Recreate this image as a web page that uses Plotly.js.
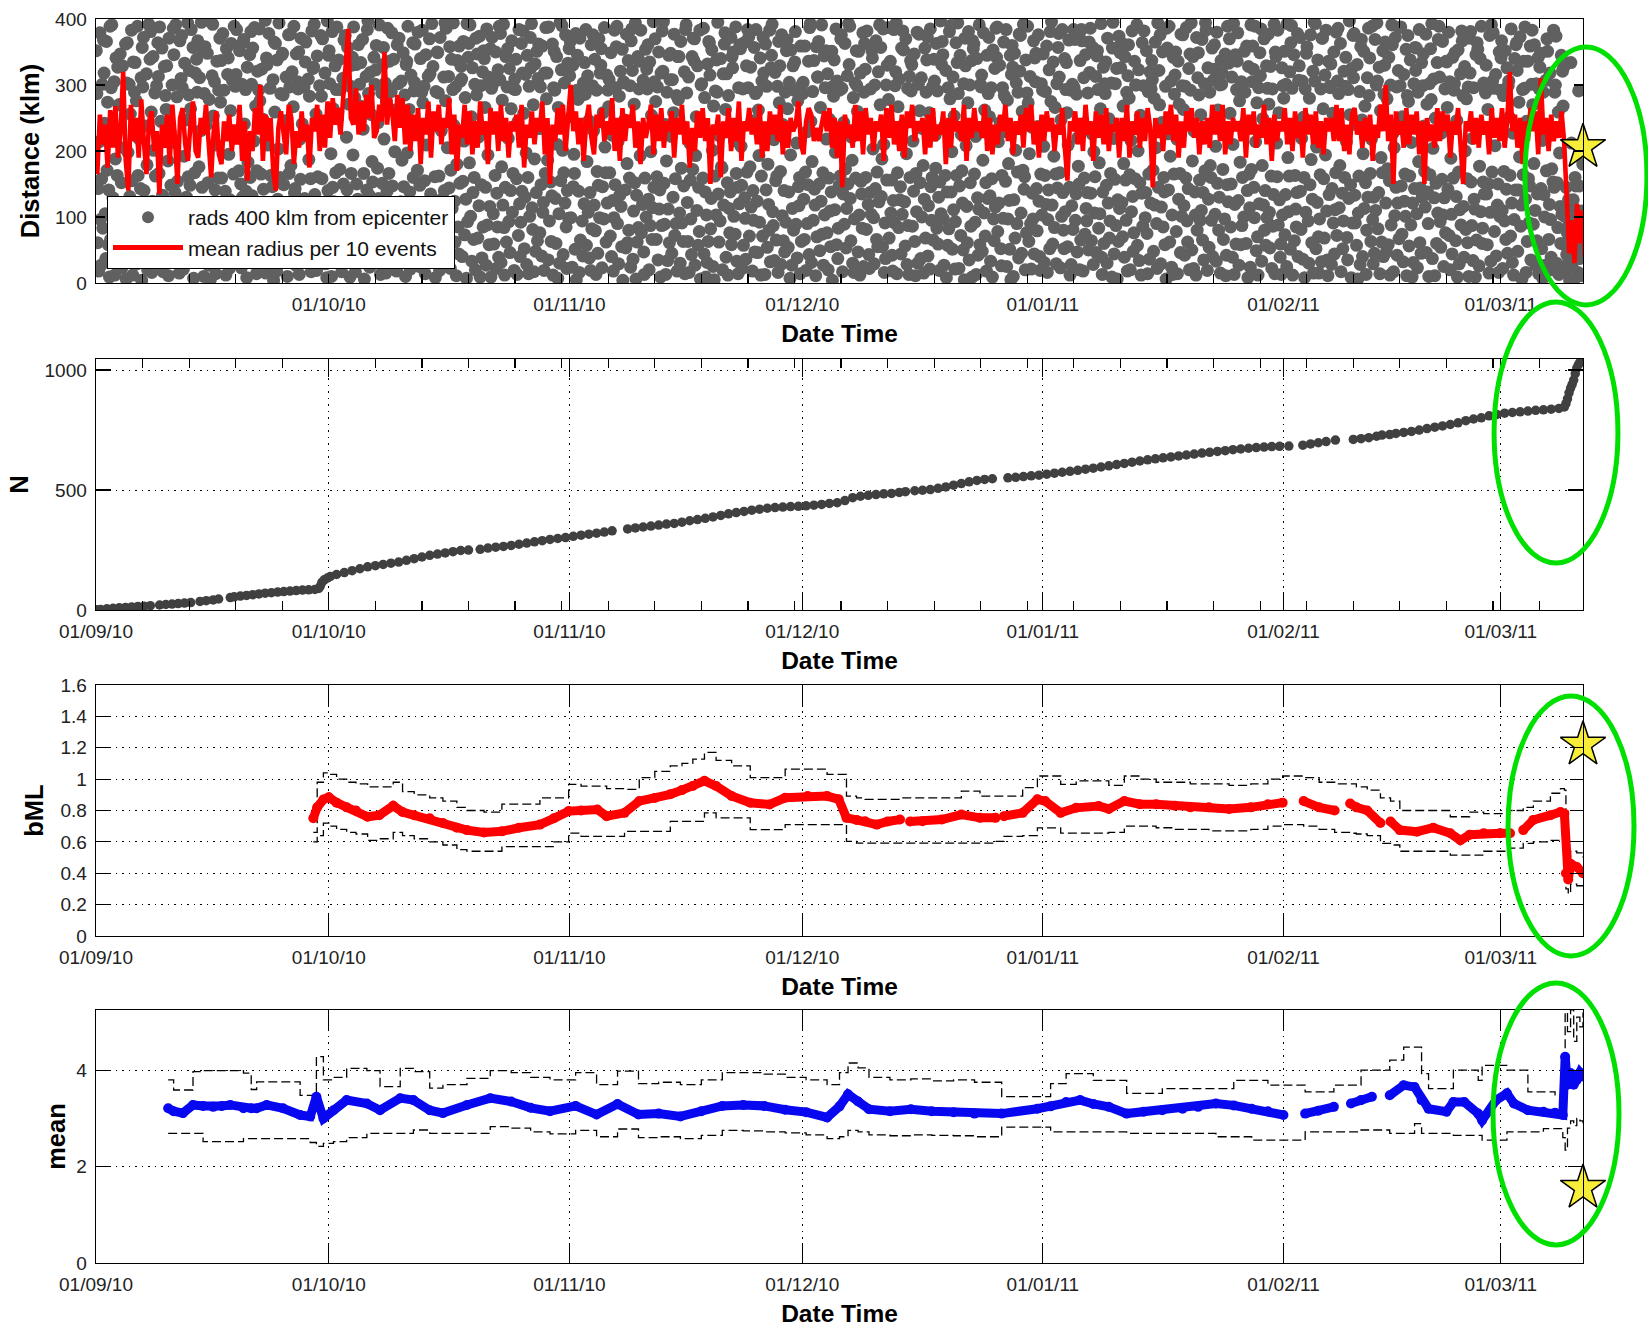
<!DOCTYPE html>
<html>
<head>
<meta charset="utf-8">
<script src="https://cdn.plot.ly/plotly-3.0.1.min.js"></script>
<style>html,body{margin:0;padding:0;background:#fff}#chart{width:1648px;height:1328px}</style>
</head>
<body>
<div id="chart"></div>
<script>
// ---------- DATA ----------
// Time is given in days since 01/09/2010 00:00
const START_DATE = '2010-09-01';
const END_DAY = 191.6;            // end of the record (main shock)
const monthTicksTop = ['2010-10-01','2010-11-01','2010-12-01','2011-01-01','2011-02-01','2011-03-01'];

// Panel 1: distance (km) of events within 400 km, grouped per day (day index = position)
const radsByDay = [
[352,287,61,143,18,214,379,96,27,158,301,83,368],[318,242,105,37,366,171,274,58,141,9,389,66,296],[391,226,129,74,305,12,188,341,52,163,327,98,270],[270,347,88,152,23,329,117,205,119,40,362,6,303],
[364,198,47,301,131,256,84,383,155,12,335,102,289],[334,111,276,29,389,163,219,68,89,143,311,4,357],[297,372,140,52,238,99,317,179,20,121,392,73,339],[381,259,16,124,343,201,77,288,162,58,299,103,364],
[313,166,388,92,245,41,356,133,17,109,328,64,284],[263,329,72,185,11,371,117,229,148,35,300,95,386],[346,213,137,391,58,282,154,34,76,15,367,120,310],[375,296,103,21,192,333,81,247,130,52,394,161,285],
[322,148,264,384,66,119,357,7,31,167,318,94,339],[289,367,44,176,311,96,231,395,145,68,351,10,287],[358,121,239,63,348,152,27,278,83,5,396,110,314],[392,253,87,305,141,14,209,336,47,159,292,118,371],
[274,337,159,39,378,109,292,64,139,12,355,84,316],[341,195,22,126,261,363,83,307,56,165,389,39,298],[316,384,112,48,227,170,352,95,150,23,301,130,365],[369,241,75,293,139,8,327,183,98,44,346,160,381],
[301,132,356,59,215,387,107,268,14,170,321,84,292],[385,276,37,165,324,90,248,142,118,62,398,15,341],[331,209,118,378,49,295,163,26,89,146,308,4,365],[259,363,94,18,338,127,203,394,53,160,287,111,346],
[348,285,149,71,246,32,312,116,10,93,376,166,297],[377,178,53,320,98,267,389,136,143,27,347,74,305],[294,350,13,218,157,371,79,241,112,45,297,128,335],[365,229,101,42,309,187,283,67,158,17,382,83,325],
[327,392,134,86,256,19,344,161,47,117,299,57,375],[283,158,370,55,234,113,318,29,97,8,397,140,345],[352,302,77,196,10,381,145,264,123,38,329,167,293],[388,249,120,338,62,172,293,35,17,93,310,150,368],
[311,375,45,221,141,357,87,271,114,9,298,166,330],[342,194,388,97,281,17,331,150,60,127,361,42,301],[268,334,109,58,369,233,166,6,87,30,313,141,384],[397,287,133,24,319,78,255,184,153,51,342,103,301],
[323,360,66,174,243,128,391,41,13,104,288,151,331],[357,218,92,303,15,276,139,386,57,166,336,37,293],[290,379,147,50,339,103,199,262,92,18,361,122,302],[371,256,31,123,306,186,64,349,146,87,285,10,331],
[336,197,389,82,263,138,21,315,112,47,364,160,291],[304,362,119,43,227,171,380,96,25,148,340,68,289],[383,273,57,298,155,14,346,209,116,33,313,86,370],[317,135,245,393,71,328,104,38,161,8,290,124,350],
[349,288,162,19,372,93,231,127,55,104,312,140,394],[276,386,86,205,48,313,144,358,22,171,339,113,293],[394,239,124,62,297,11,180,337,85,44,359,151,306],[328,309,40,154,366,215,73,281,127,7,393,93,342],
[363,182,391,101,252,33,326,137,66,160,301,20,371],[285,347,68,221,117,374,9,299,149,38,320,85,352],[340,266,145,27,385,88,194,312,58,116,355,9,295],[372,301,105,59,236,163,350,22,136,85,323,39,389],
[308,378,31,176,277,118,392,84,12,145,343,62,297],[355,219,93,325,46,140,264,367,107,166,294,19,309],[293,339,158,13,244,72,384,120,40,92,363,139,318],[382,257,52,130,316,197,28,345,160,14,298,101,372],
[326,393,114,81,270,17,188,332,48,137,351,64,310],[362,234,76,297,149,41,359,107,122,19,318,166,387],[279,318,186,35,388,94,225,153,63,132,362,12,296],[351,292,128,60,343,210,7,266,105,30,395,155,323],
[390,201,43,167,303,121,376,85,22,140,333,98,355],[314,366,99,252,24,330,146,195,166,51,378,5,292],[345,278,139,16,371,65,284,231,94,41,303,120,334],[286,384,57,184,314,107,246,38,137,19,361,82,299],
[376,231,118,339,79,13,292,169,45,148,370,99,318],[330,355,23,146,258,97,387,206,167,62,315,121,292],[267,308,167,71,349,40,224,125,18,99,383,149,296],[358,389,90,214,29,283,133,321,116,55,354,4,305],
[303,247,141,53,377,181,61,337,80,159,299,24,367],[385,322,36,109,271,152,394,6,133,62,343,84,294],[336,193,383,76,229,119,307,47,13,159,354,100,324],[294,361,127,20,335,87,199,254,66,114,396,145,305],
[370,275,66,161,297,35,350,112,141,9,318,87,382],[321,396,151,89,240,13,185,289,34,112,345,61,308],[348,222,45,308,130,258,377,72,158,90,284,18,343],[278,343,106,30,366,174,91,237,63,147,320,14,384],
[391,288,122,63,312,16,212,156,97,43,343,172,371],[337,370,27,193,252,110,329,57,145,78,383,6,300],[302,240,159,386,44,281,138,9,103,31,332,63,366],[364,315,82,128,353,201,25,268,5,162,291,103,338],
[289,395,135,62,223,94,340,176,174,20,317,118,362],[379,263,39,317,152,12,284,113,76,138,372,58,343],[326,350,101,215,74,388,166,33,145,14,296,120,361],[355,207,148,22,294,57,364,129,98,36,329,168,384],
[296,373,71,176,327,115,246,18,140,95,357,47,287],[384,289,124,46,262,193,92,341,12,162,306,71,372],[318,232,13,362,141,298,54,180,119,80,383,32,326],[345,392,108,87,217,34,319,155,65,162,298,16,366],
[273,329,169,28,376,102,240,64,140,47,289,92,352],[368,264,54,138,304,7,194,353,27,113,329,80,292],[335,381,89,212,38,276,146,117,160,14,359,63,300],[287,304,127,66,359,168,19,229,90,149,336,43,387],
[393,245,31,184,290,95,337,142,118,11,358,70,312],[312,366,150,49,266,124,391,74,167,27,344,103,296],[352,218,76,317,20,159,248,109,55,138,351,4,298],[283,338,111,198,385,58,306,37,83,147,292,162,370],
[376,295,17,135,243,89,363,173,53,113,314,150,393],[331,389,128,64,221,186,30,281,16,97,303,159,352],[299,260,47,351,103,12,318,154,135,83,379,25,289],[363,324,160,81,382,237,119,43,22,137,294,104,352],
[341,203,99,29,300,143,367,66,168,55,320,123,391],[270,357,131,188,55,385,210,16,91,37,300,156,330],[387,278,68,240,336,106,156,42,18,125,384,91,299],[320,394,14,167,267,84,309,126,146,44,356,104,382],
[353,241,123,56,370,196,28,295,87,13,313,160,337],[291,331,86,215,139,347,63,11,166,108,380,30,301],[377,261,152,37,311,100,234,178,15,127,356,68,289],[338,373,41,117,258,21,385,146,95,160,298,65,339],
[306,224,174,363,83,291,59,130,19,153,397,105,331],[366,346,97,27,238,163,322,8,138,57,296,82,381],[279,390,138,199,51,312,111,253,21,93,364,163,334],[394,287,22,147,345,72,225,170,121,50,302,5,371],
[329,208,116,61,273,381,35,300,152,86,337,9,367],[355,362,165,92,222,13,340,129,42,112,391,58,301],[297,315,48,186,379,106,262,71,152,18,345,128,287],[372,252,132,33,296,158,9,353,97,64,325,115,386],
[342,388,78,214,121,330,243,52,26,163,296,98,365],[284,229,154,384,25,277,97,181,125,51,345,5,316],[360,327,10,126,348,68,201,303,90,168,289,38,377],[321,375,106,45,260,171,392,142,161,20,338,76,288],
[389,273,63,196,313,90,21,236,136,97,367,44,341],[305,348,143,79,237,376,124,40,19,165,302,103,292],[347,207,31,163,290,119,359,16,96,141,323,52,381],[275,396,118,59,335,192,84,266,165,29,302,144,357],
[378,312,167,23,247,101,384,137,80,52,340,108,293],[334,258,55,209,368,145,12,292,28,117,301,81,384],[296,369,95,135,286,47,220,177,150,20,337,65,384],[367,241,18,311,159,74,346,113,94,137,288,50,365],
[319,386,136,64,226,357,28,199,106,161,313,46,344],[352,293,83,182,105,264,393,39,13,138,327,60,302],[287,335,148,30,371,121,249,68,94,166,303,9,356],[395,219,44,157,302,87,325,6,126,63,374,113,349],
[326,364,122,70,268,181,39,343,156,95,289,18,314],[361,280,164,20,216,108,382,131,48,76,336,158,300],[300,391,57,200,323,34,152,254,12,136,364,86,299],[382,246,99,137,352,75,14,290,165,36,320,121,294],
[337,308,171,48,280,118,365,205,90,22,394,145,322],[270,376,29,115,243,350,85,160,138,58,298,6,386],[356,226,141,389,62,192,306,24,103,13,342,165,286],[315,350,78,218,14,336,127,271,166,46,377,101,299],
[376,263,117,42,298,159,387,94,62,143,325,20,347],[292,394,50,185,343,22,230,138,103,12,372,80,311],[349,285,156,95,255,110,369,65,137,35,302,170,394],[383,233,19,326,127,54,289,178,160,95,356,40,307],
[324,361,104,207,33,380,151,262,80,130,300,15,337],[301,318,172,66,227,97,347,11,42,149,389,123,333],[370,257,85,150,312,39,210,393,13,119,346,59,293],[336,379,125,27,276,183,58,305,87,160,301,100,351],
[289,243,60,359,140,8,328,165,114,24,391,172,305],[359,324,145,99,389,214,49,273,70,12,296,120,349],[314,385,33,178,249,118,370,80,140,57,329,99,295],[377,271,107,53,328,162,22,294,86,134,392,14,350],
[343,212,161,383,88,258,126,39,59,13,326,103,299],[280,351,73,134,301,25,393,190,108,162,320,51,364],[390,295,12,228,346,64,163,112,85,137,378,40,307],[329,372,139,81,219,306,36,251,160,8,294,107,348],
[358,236,94,30,280,149,376,187,61,127,321,15,395],[306,393,52,206,122,338,70,15,97,164,294,32,371],[371,264,158,68,315,194,383,109,35,11,336,134,298],[296,332,28,143,257,91,350,44,111,167,380,72,306],
[386,287,114,178,363,17,224,136,52,94,321,160,298],[342,214,69,35,293,128,397,255,149,8,325,91,375],[311,378,133,91,240,57,331,6,106,162,290,28,358],[369,247,40,196,351,113,268,152,13,80,311,130,386],
[284,341,166,63,218,389,96,29,130,45,369,110,300],[394,306,82,137,327,14,261,190,62,167,352,40,286],[330,365,121,47,279,173,58,342,155,12,300,88,391],[361,227,17,205,102,372,145,297,42,121,322,67,387],
[299,388,147,74,252,32,316,124,165,101,354,11,284],[375,275,56,162,338,88,213,9,121,31,302,143,357],[322,356,105,23,289,184,384,61,144,45,334,130,299],[347,238,169,115,377,46,271,138,90,10,302,164,355],
[278,393,37,204,309,129,11,250,151,60,334,106,369],[389,312,93,54,227,157,366,103,25,129,294,76,336],[335,266,142,380,72,305,20,189,104,44,342,159,292],[302,349,64,131,246,9,353,168,29,111,317,88,382],
[367,284,116,39,328,200,81,279,158,61,297,10,371],[318,381,153,87,219,34,296,127,112,9,346,65,364],[354,239,26,177,340,108,389,60,83,153,303,135,293],[288,330,135,58,263,150,15,375,107,33,391,168,306],
[379,295,78,208,316,41,234,118,150,16,350,101,292],[341,367,110,22,284,169,94,352,66,142,326,45,299],[306,251,163,71,385,121,31,227,12,96,340,141,361],[364,322,48,141,274,191,373,86,118,6,293,164,336],
[295,388,127,16,245,63,336,158,91,147,359,35,301],[383,270,89,181,361,110,27,302,64,135,341,14,294],[327,348,143,52,216,7,289,134,100,27,307,170,370],[351,230,66,119,318,96,39,173,20,153,383,145,289],
[300,374,30,152,84,259,13,197,116,60,345,104,321],[268,327,58,101,18,145,43,76,29,126,88,4,115],[334,212,24,88,126,5,62,160,147,39,102,72,16],[291,147,37,71,11,109,52,180,19,128,96,64,140]
];

// Panel 1: mean radius per 10 events (km), grouped per day
const meanRadByDay = [
[165,255,210],[240,175,262],[205,268,190],[230,320,185],[140,270,215],[250,190,278],[215,165,245],[260,200,230],
[135,240,205],[255,180,270],[220,150,250],[265,210,185],[240,275,200],[190,250,225],[270,205,160],[230,260,195],
[180,245,215],[255,200,240],[210,270,185],[245,155,230],[200,265,225],[300,185,255],[215,250,170],[140,235,260],
[225,195,270],[250,180,230],[205,260,215],[240,175,250],[230,270,200],[255,205,275],[220,280,240],[265,225,290],
[330,385,250],[240,295,225],[275,230,285],[250,300,220],[230,270,245],[350,240,280],[260,215,285],[235,280,210],
[270,200,255],[215,265,180],[250,225,275],[190,260,230],[270,210,250],[235,280,195],[255,170,240],[220,270,210],
[260,195,245],[205,275,225],[245,180,265],[225,260,200],[270,215,250],[190,245,230],[255,205,270],[175,240,220],
[260,210,250],[230,275,195],[250,150,240],[215,265,225],[270,200,255],[300,230,260],[210,250,185],[245,270,220],
[195,255,235],[265,215,245],[225,280,200],[250,185,265],[215,255,235],[270,205,245],[180,250,220],[240,270,195],
[255,215,265],[205,245,230],[260,190,250],[225,270,210],[245,175,235],[200,260,220],[265,215,250],[150,240,225],
[255,160,245],[220,265,200],[250,215,275],[185,245,230],[265,225,250],[210,270,190],[245,200,260],[225,255,215],
[270,195,245],[205,250,230],[240,275,210],[195,245,265],[255,215,235],[215,240,260],[230,265,205],[250,190,245],
[145,255,220],[240,205,270],[215,260,195],[265,225,250],[200,245,230],[255,185,265],[220,270,210],[245,200,255],
[190,260,235],[270,215,245],[230,250,195],[255,205,265],[215,240,225],[260,180,250],[205,265,230],[245,215,270],
[185,250,220],[265,230,245],[220,270,200],[250,195,240],[210,255,230],[270,215,250],[195,245,225],[255,205,265],
[230,270,210],[245,190,255],[215,260,230],[250,200,240],[225,265,205],[155,245,230],[260,210,250],[200,270,225],
[245,185,260],[220,255,210],[265,200,240],[230,250,190],[250,215,270],[190,245,225],[260,205,250],[215,265,235],
[145,250,220],[240,200,260],[225,270,215],[255,190,245],[205,260,230],[265,220,250],[195,245,210],[250,205,270],
[225,260,215],[270,195,245],[210,250,230],[245,215,265],[190,255,225],[260,205,240],[220,270,210],[250,185,255],
[215,245,230],[265,210,250],[200,260,220],[245,190,265],[225,255,210],[260,205,245],[195,250,230],[250,215,270],
[215,265,200],[240,195,255],[265,225,245],[205,250,215],[255,185,240],[220,270,230],[300,215,255],[150,260,225],
[245,205,265],[210,255,225],[260,195,245],[150,250,215],[240,205,265],[215,260,230],[255,190,245],[225,265,205],
[150,245,230],[260,210,250],[205,255,225],[245,195,265],[220,250,215],[265,205,245],[320,230,255],[205,250,180],
[245,215,265],[230,260,195],[310,225,250],[200,255,215],[245,220,260],[215,130,45],[95,30,120],[60,110,40]
];

// Panel 2: cumulative number of events N
const nDay = [0.1,0.6,1.4,2.2,3.0,3.8,4.6,5.4,6.2,7.0,8.2,9.0,9.8,10.6,11.4,12.2,13.4,14.2,15.1,15.8,
17.3,17.8,18.6,19.4,20.2,21.0,21.8,22.6,23.4,24.2,25.0,25.8,26.6,27.4,28.2,28.7,28.9,29.1,29.4,29.8,30.2,
31,32,33,34,35,36,37,38,39,40,41,42,43,44,45,46,47,48,
49.5,50.5,51.5,52.5,53.5,54.5,55.5,56.5,57.5,58.5,59.5,60.5,61.5,62.5,63.5,64.5,65.5,66.5,
68.5,69.5,70.5,71.5,72.5,73.5,74.5,75.5,76.5,77.5,78.5,79.5,80.5,81.5,82.5,83.5,84.5,85.5,86.5,87.5,88.5,89.5,90.5,91.5,92.5,93.5,94.5,95.5,96.5,97.5,98.5,99.5,100.5,101.5,102.5,103.5,
104.3,105.5,106.5,107.5,108.5,109.5,110.5,111.5,112.5,113.5,114.5,115.5,
117.5,118.5,119.5,120.5,121.5,122.5,123.5,124.5,125.5,126.5,127.5,128.5,129.5,130.5,131.5,132.5,133.5,134.5,135.5,136.5,137.5,138.5,139.5,140.5,141.5,142.5,143.5,144.5,145.5,146.5,147.5,148.5,149.5,150.5,151.5,152.5,
153.7,155.5,156.5,157.5,158.5,159.7,162,163,164,165,165.7,166.7,
167.5,168.5,169.5,170.5,171.5,172.5,173.5,174.5,175.5,176.5,177.5,178.5,179.5,180.5,181.5,182.5,183.5,184.5,185.5,186.5,187.5,188.5,
189.2,189.4,189.6,189.8,190.0,190.2,190.4,190.6,190.8,191.0,191.2,191.4,191.6];
const nVal = [1,2,5,7,9,11,13,15,16,18,21,23,25,27,29,31,36,39,42,46,
52,55,58,61,64,67,70,72,75,77,79,81,83,84,86,90,100,115,126,133,140,
148,156,164,172,180,185,190,195,200,207,214,221,228,233,238,243,248,250,
253,258,262,265,269,274,279,284,289,294,298,302,307,312,316,320,325,330,
338,342,346,350,354,358,361,366,372,377,382,388,394,401,406,411,416,420,424,427,429,431,432,434,437,440,444,447,456,468,474,478,481,484,486,490,
493,497,499,502,507,513,520,527,534,540,544,547,
551,553,556,559,562,566,570,574,578,582,587,591,596,601,606,611,616,621,626,630,634,638,642,646,650,654,657,661,664,668,671,674,677,679,681,682,
683,687,692,697,702,708,711,714,718,724,729,731,
736,740,744,750,756,762,767,773,780,789,796,801,809,815,820,823,826,829,832,834,837,840,
846,860,880,905,925,940,958,985,1008,1022,1032,1040,1046];

// Panel 3: b-value (bML) with upper / lower bounds (null = no estimate)
const bDay = [28.0,28.5,29.3,30.0,31.0,32.3,33.5,35.0,36.5,38.3, 39.5,41.0,43.0,44.7,46.5,47.8,50.0,52.3,54.5,57.2,
59.0,60.9,62.5,64.6,65.8,68.1,70.0,72.0,74.0,75.5, 76.9,78.4,79.9,81.9,84.3,86.8,88.8,91.7,94.2,95.7,
96.7,98.0,99.1,100.6,102.0,103.6,104.5,104.9,106.5,109.0, 111.5,113.9,115.9,116.4,117.0,119.4,121.3,122.3,124.3,126.3,
129.2,130.5,132.5,134.5,136.6,139.0,141.0,143.4,146.0,148.8, 151.0,152.9,154.0,155.6,157.6,159.6,160.5,161.6,162.4,163.8,
165.5,166.1,166.8,168.0,170.2,172.3,174.5,175.8,177.0,178.8, 180.9,182.2,183.0,183.9,185.2,187.4,188.7,189.2,189.4,189.7,
190.0,190.8,191.6];
const bVal = [0.75,0.82,0.87,0.885,0.85,0.82,0.80,0.76,0.77,0.83, 0.79,0.77,0.75,0.72,0.69,0.675,0.66,0.667,0.69,0.71,
0.75,0.796,0.80,0.806,0.764,0.785,0.86,0.88,0.903,0.93, 0.956,0.989,0.956,0.892,0.849,0.839,0.881,0.892,0.892,0.871,
0.753,0.74,0.731,0.71,0.73,0.742,null,0.73,0.731,0.742, 0.774,0.753,0.753,null,0.764,0.785,0.871,0.86,0.785,0.817,
0.828,0.81,0.86,0.84,0.84,0.83,0.82,0.82,0.81,0.82, 0.84,0.85,null,0.86,0.82,0.80,null,0.845,0.82,0.80,
0.72,null,0.73,0.675,0.665,0.69,0.655,0.61,0.645,0.655, 0.655,0.655,null,0.675,0.74,0.77,0.79,0.78,0.40,0.36,
0.46,0.44,0.40];
const bUp = [0.66,0.98,1.04,1.03,1.00,0.98,0.97,0.95,0.95,0.98, 0.92,0.90,0.88,0.86,0.82,0.80,0.79,0.84,0.84,0.88,
0.88,0.967,0.956,0.956,0.94,0.935,1.01,1.05,1.085,1.10, 1.128,1.17,1.12,1.085,1.01,1.01,1.064,1.064,1.03,1.03,
0.892,0.88,0.871,0.871,0.871,0.88,null,0.88,0.88,0.88, 0.924,0.892,0.892,null,0.892,0.946,1.02,1.02,0.967,0.989,
0.989,0.96,1.02,1.00,0.98,0.98,0.97,0.97,0.96,0.97, 1.00,1.02,null,1.01,0.98,0.97,null,0.97,0.95,0.93,
0.88,null,0.86,0.80,0.80,0.80,0.76,0.76,0.79,0.78, 0.78,0.80,null,0.82,0.86,0.91,0.94,0.93,0.55,0.50,
0.54,0.53,0.50];
const bLo = [0.60,0.64,0.72,0.70,0.68,0.66,0.65,0.61,0.62,0.66, 0.64,0.62,0.60,0.58,0.55,0.54,0.54,0.57,0.57,0.57,
0.60,0.656,0.635,0.635,0.635,0.667,0.667,0.667,0.731,0.731, 0.731,0.785,0.753,0.753,0.678,0.678,0.71,0.71,0.71,0.71,
0.603,0.592,0.592,0.592,0.592,0.592,null,0.592,0.592,0.592, 0.592,0.592,0.603,null,0.635,0.64,0.689,0.689,0.656,0.656,
0.656,0.66,0.70,0.70,0.69,0.68,0.68,0.67,0.67,0.68, 0.70,0.71,null,0.70,0.68,0.66,null,0.655,0.65,0.64,
0.59,null,0.58,0.54,0.54,0.54,0.515,0.515,0.515,0.54, 0.54,0.56,null,0.59,0.60,0.61,0.61,0.62,0.30,0.27,
0.33,0.32,0.30];

// Panel 4: mean magnitude with upper / lower bounds
const mDay = [9.3,10.0,11.2,12.5,13.8,15.1,16.2,17.3,19.0,20.0, 20.7,22.0,24.1,26.3,27.6,28.4,29.3,30.6,32.3,34.9,
36.6,39.2,40.9,43.0,44.7,47.8,50.8,53.5,56.0,58.5, 61.8,64.5,67.2,69.9,72.5,75.3,78.0,80.7,83.4,86.1,
88.8,91.5,94.2,95.8,96.9,98.2,99.6,102.3,105.0,107.7, 110.5,113.2,116.7,121.3,123.0,125.0,126.8,128.5,130.5,132.8,
135.0,137.4,140.0,142.0,144.3,146.6,148.9,151.0,153.0,154.0, 155.8,157.5,159.5,160.7,161.7,163.0,164.4,165.3,166.7,168.5,
169.9,170.8,171.7,174.0,174.9,176.3,178.1,178.6,180.4,181.8, 182.7,184.5,186.5,188.0,189.0,189.3,189.6,190.0,190.4,190.8,
191.2,191.6];
const mVal = [3.21,3.15,3.11,3.28,3.26,3.24,3.26,3.28,3.21,3.21, 3.21,3.28,3.21,3.07,3.04,3.45,3.00,3.17,3.38,3.31,
3.17,3.42,3.38,3.17,3.11,3.28,3.42,3.35,3.22,3.15, 3.26,3.08,3.30,3.08,3.10,3.04,3.15,3.26,3.28,3.26,
3.18,3.13,3.02,3.25,3.50,3.35,3.19,3.15,3.19,3.15, 3.13,3.10,3.10,3.20,3.25,3.34,3.38,3.30,3.24,3.10,
3.14,3.17,3.20,3.24,3.31,3.27,3.20,3.15,3.07,null, 3.10,3.16,3.24,null,3.31,3.38,3.45,null,3.48,3.69,
3.65,3.38,3.20,3.14,3.34,3.34,3.10,2.96,3.38,3.52, 3.31,3.17,3.14,3.12,3.07,4.28,3.70,3.94,3.70,3.80,
3.95,3.87];
const mUp = [3.80,3.59,3.59,3.97,3.99,3.99,3.99,3.99,3.94,3.60, 3.76,3.76,3.76,3.48,3.48,4.28,3.80,3.85,4.04,3.99,
3.66,4.04,3.97,3.63,3.70,3.83,3.99,3.95,3.85,3.80, 3.95,3.70,3.98,3.72,3.75,3.70,3.80,3.95,3.95,3.92,
3.85,3.80,3.70,3.95,4.15,4.05,3.85,3.80,3.82,3.78, 3.80,3.75,3.45,3.45,3.72,3.93,3.93,3.79,3.79,3.52,
3.52,3.62,3.62,3.62,3.62,3.79,3.79,3.69,3.69,null, 3.55,3.55,3.69,null,3.69,4.00,4.00,null,4.21,4.48,
4.48,3.93,3.62,3.62,4.00,4.00,3.79,4.10,4.10,4.00, 4.00,3.55,3.55,3.49,3.49,5.20,4.80,5.25,4.60,5.10,
4.90,5.20];
const mLo = [2.69,2.69,2.69,2.69,2.52,2.52,2.52,2.52,2.58,2.58, 2.58,2.58,2.58,2.58,2.50,2.42,2.48,2.52,2.60,2.69,
2.69,2.69,2.76,2.69,2.69,2.69,2.83,2.80,2.72,2.68, 2.75,2.62,2.78,2.60,2.62,2.58,2.65,2.75,2.74,2.72,
2.70,2.66,2.58,2.62,2.75,2.72,2.66,2.64,2.66,2.65, 2.64,2.62,2.82,2.82,2.72,2.72,2.72,2.72,2.72,2.69,
2.69,2.69,2.69,2.69,2.62,2.62,2.55,2.55,2.55,null, 2.72,2.72,2.72,null,2.72,2.76,2.76,null,2.69,2.69,
2.89,2.69,2.69,2.69,2.65,2.65,2.65,2.55,2.55,2.72, 2.72,2.72,2.79,2.79,2.60,2.34,2.80,2.95,2.85,3.00,
2.95,2.90];

// Main shock markers (star) per panel
const starDay = 191.6;
const starDist = 206;
const starB = 1.22;
const starMean = 1.56;

// ---------- HELPERS ----------
const T0 = Date.UTC(2010, 8, 1);
function dayToDate(d) {
  return new Date(T0 + d * 86400000).toISOString().replace('T', ' ').slice(0, 19);
}
function expandByDay(groups) {
  const xs = [], ys = [];
  groups.forEach((vals, day) => {
    vals.forEach((v, j) => { xs.push(dayToDate(day + (j + 0.5) / vals.length)); ys.push(v); });
  });
  return {x: xs, y: ys};
}
const FONT = 'Liberation Sans, Arial, sans-serif';
const grey = expandByDay(radsByDay);
const red = expandByDay(meanRadByDay);
const xEnd = dayToDate(END_DAY);
const starStyle = {symbol:'star', size:34, color:'#f7ee3a', line:{color:'#000', width:1.5}};
const dashStyle = {color:'#000', width:1.3, dash:'9px,4px', shape:'hv'};

const traces = [
  {type:'scatter', mode:'markers', x:grey.x, y:grey.y, xaxis:'x', yaxis:'y',
   name:'rads 400 klm from epicenter', marker:{size:13, color:'#606060'}},
  {type:'scatter', mode:'lines', x:red.x, y:red.y, xaxis:'x', yaxis:'y',
   name:'mean radius per 10 events', line:{color:'#ff0000', width:4.6}},
  {type:'scatter', mode:'markers', x:nDay.map(dayToDate), y:nVal, xaxis:'x2', yaxis:'y2',
   showlegend:false, marker:{size:9.5, color:'#404040'}},
  {type:'scatter', mode:'lines', x:bDay.map(dayToDate), y:bUp, xaxis:'x3', yaxis:'y3', showlegend:false,
   connectgaps:true, line:dashStyle},
  {type:'scatter', mode:'lines', x:bDay.map(dayToDate), y:bLo, xaxis:'x3', yaxis:'y3', showlegend:false,
   connectgaps:true, line:dashStyle},
  {type:'scatter', mode:'lines+markers', x:bDay.map(dayToDate), y:bVal, xaxis:'x3', yaxis:'y3', showlegend:false,
   line:{color:'#ff0000', width:9}, marker:{size:10, color:'#ff0000'}},
  {type:'scatter', mode:'lines', x:mDay.map(dayToDate), y:mUp, xaxis:'x4', yaxis:'y4', showlegend:false,
   connectgaps:true, line:dashStyle},
  {type:'scatter', mode:'lines', x:mDay.map(dayToDate), y:mLo, xaxis:'x4', yaxis:'y4', showlegend:false,
   connectgaps:true, line:dashStyle},
  {type:'scatter', mode:'lines+markers', x:mDay.map(dayToDate), y:mVal, xaxis:'x4', yaxis:'y4', showlegend:false,
   line:{color:'#0808f0', width:9}, marker:{size:10, color:'#0808f0'}},
  {type:'scatter', mode:'markers', x:[dayToDate(starDay)], y:[starDist], xaxis:'x', yaxis:'y', showlegend:false, cliponaxis:false, marker:starStyle},
  {type:'scatter', mode:'markers', x:[dayToDate(starDay)], y:[starB], xaxis:'x3', yaxis:'y3', showlegend:false, cliponaxis:false, marker:starStyle},
  {type:'scatter', mode:'markers', x:[dayToDate(starDay)], y:[starMean], xaxis:'x4', yaxis:'y4', showlegend:false, cliponaxis:false, marker:starStyle}
];

// ---------- LAYOUT ----------
const tickFont = {family:FONT, size:19, color:'#222'};
const xTitleFont = {family:FONT, size:24.5, color:'#000', weight:'bold'};
const yTitleFont = {family:FONT, size:25.5, color:'#000', weight:'bold'};
function xAxis(anchor, opts) {
  return Object.assign({
    type:'date', anchor:anchor, domain:[0,1], range:[dayToDate(0), xEnd],
    tickmode:'linear', tick0:START_DATE, dtick:'M1', tickformat:'%d/%m/%y',
    ticks:'inside', ticklen:18, tickwidth:1.2, tickcolor:'#000', tickfont:tickFont, ticklabelstandoff:4,
    showline:true, linecolor:'#000', linewidth:1.4, mirror:'ticks', zeroline:false,
    showgrid:true, gridcolor:'#000', gridwidth:1, griddash:'1.5px,5px',
    title:{text:'Date Time', font:xTitleFont, standoff:10}
  }, opts || {});
}
function yAxis(anchor, domain, range, opts) {
  return Object.assign({
    anchor:anchor, domain:domain, range:range,
    ticks:'inside', ticklen:13, tickwidth:1.2, tickcolor:'#000', tickfont:tickFont, ticklabelstandoff:4,
    showline:true, linecolor:'#000', linewidth:1.4, mirror:'ticks', zeroline:false,
    showgrid:true, gridcolor:'#000', gridwidth:1, griddash:'1.5px,5px'
  }, opts || {});
}
const minor6 = {tickmode:'linear', tick0:START_DATE, dtick:6*86400000, ticks:'inside', ticklen:9, tickwidth:1.2, tickcolor:'#000', showgrid:false};

const layout = {
  width:1648, height:1328, paper_bgcolor:'#fff', plot_bgcolor:'#fff',
  margin:{l:96, r:65, t:19, b:65},
  font:{family:FONT, color:'#000'},
  showlegend:true,
  legend:{x:0.0074, y:0.8577, xanchor:'left', yanchor:'top', bgcolor:'#fff', bordercolor:'#000', borderwidth:1,
          font:{family:FONT, size:21, color:'#111'}, itemwidth:70, itemsizing:'constant', tracegroupgap:0},
  xaxis: xAxis('y', {tickmode:'array', tickvals:monthTicksTop, showgrid:false, ticklen:9, minor:minor6}),
  yaxis: yAxis('x', [0.7878, 1], [0, 400], {dtick:100, showgrid:false, ticklen:9,
          title:{text:'Distance (klm)', font:yTitleFont, standoff:8}}),
  xaxis2: xAxis('y2', {minor:minor6}),
  yaxis2: yAxis('x2', [0.5249, 0.7267], [0, 1046], {tickvals:[0,500,1000], ticklen:15,
          title:{text:'N', font:yTitleFont, standoff:8}}),
  xaxis3: xAxis('y3', {ticklen:22}),
  yaxis3: yAxis('x3', [0.2629, 0.4646], [0, 1.6], {dtick:0.2, ticklen:13,
          title:{text:'bML', font:yTitleFont, standoff:9}}),
  xaxis4: xAxis('y4', {ticklen:20}),
  yaxis4: yAxis('x4', [0, 0.2034], [0, 5.25], {tickvals:[0,2,4], ticklen:15,
          title:{text:'mean', font:yTitleFont, standoff:3}}),
  shapes: [
    {type:'circle', xref:'paper', yref:'paper', x0:0.9610, x1:1.0430, y0:0.7701, y1:0.9775, line:{color:'#00e000', width:5}, layer:'above'},
    {type:'circle', xref:'paper', yref:'paper', x0:0.9402, x1:1.0235, y0:0.5627, y1:0.7725, line:{color:'#00e000', width:5}, layer:'above'},
    {type:'circle', xref:'paper', yref:'paper', x0:0.9496, x1:1.0343, y0:0.2468, y1:0.4558, line:{color:'#00e000', width:5}, layer:'above'},
    {type:'circle', xref:'paper', yref:'paper', x0:0.9395, x1:1.0242, y0:0.0145, y1:0.2251, line:{color:'#00e000', width:5}, layer:'above'}
  ]
};

Plotly.newPlot('chart', traces, layout, {displayModeBar:false, staticPlot:true});
</script>
</body>
</html>
